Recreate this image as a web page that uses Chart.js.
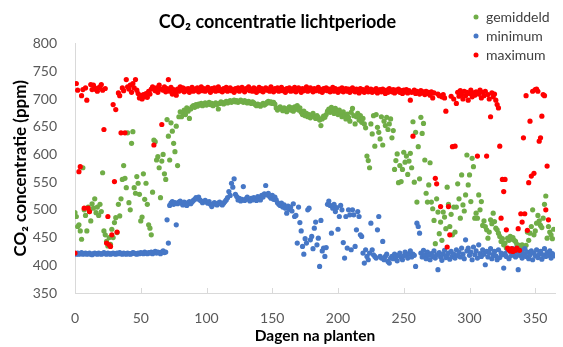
<!DOCTYPE html>
<html>
<head>
<meta charset="utf-8">
<script src="https://cdn.jsdelivr.net/npm/chart.js@4.4.1/dist/chart.umd.min.js"></script>
<style>
    body { margin: 0; background: #fff; }
    #wrap { width: 563px; height: 347px; position: relative; }
</style>
</head>
<body>
<div id="wrap"><canvas id="co2"></canvas></div>
<script>
// one value per day (index = dagen na planten)
var gemiddeld = [
    495,488,470,473,462,447,576,500,490,462,
    505,497,480,511,503,520,495,505,490,510,
    497,567,462,455,443,435,450,438,465,450,
    477,486,459,510,489,520,555,580,557,540,
    639,513,500,620,641,540,530,560,548,528,
    480,487,565,519,548,510,473,467,455,532,
    626,623,590,596,576,522,588,600,565,555,
    663,633,590,657,642,620,605,651,580,668,
    677,668,675,680,672,684,678,665,682,686,
    688,685,690,687,691,689,692,688,690,693,
    689,691,694,690,692,688,691,693,690,682,
    692,695,693,691,694,696,693,695,697,694,
    696,698,695,697,694,696,698,696,694,697,
    695,693,696,694,692,695,693,690,688,691,
    689,687,690,692,689,691,694,696,693,695,
    692,694,691,684,680,683,686,682,679,684,
    681,677,683,686,680,684,678,686,682,688,
    680,684,676,672,678,670,674,668,672,666,
    670,674,668,665,670,667,662,652,664,669,
    667,672,678,682,676,685,680,674,683,678,
    672,680,675,668,677,671,664,673,667,660,
    676,683,670,655,668,674,662,670,658,665,
    655,648,597,589,576,655,637,670,615,672,
    649,640,628,668,617,660,652,667,645,655,
    664,630,643,573,589,601,549,580,551,573,
    604,586,597,564,588,602,576,659,550,640,
    514,614,556,667,638,656,590,530,514,545,
    585,514,502,481,439,520,496,457,478,445,
    496,487,466,541,510,470,492,455,505,460,
    505,547,520,485,563,509,498,527,599,545,
    563,515,593,578,485,494,485,527,500,515,
    472,480,470,464,449,460,482,475,494,479,
    467,464,458,452,443,448,437,440,431,449,
    445,452,447,450,445,443,438,432,436,430,
    437,434,429,436,460,445,458,470,500,455,
    462,476,490,480,472,468,485,510,525,449,
    470,460,455,448,465
];

var minimum = [
    421,420,422,420,421,423,420,421,422,420,
    421,422,420,419,421,422,421,420,422,421,
    420,421,423,421,420,422,421,420,421,422,
    421,420,422,421,423,421,420,422,421,420,
    422,421,420,421,423,422,421,420,422,421,
    423,422,421,424,422,421,423,422,424,421,
    423,425,422,424,423,421,424,426,423,424,
    482,440,508,512,515,510,513,473,511,514,
    516,512,509,514,511,508,513,515,511,514,
    517,519,522,520,523,518,516,513,515,517,
    514,512,515,510,506,510,513,511,509,512,
    514,511,509,512,515,518,522,533,526,548,
    541,556,528,524,518,521,516,519,542,517,
    520,523,519,516,521,518,522,520,517,524,
    521,518,526,523,529,544,527,530,524,521,
    526,519,523,518,513,510,508,512,505,509,
    503,494,507,501,505,498,511,488,490,440,
    505,477,462,434,420,448,440,500,503,446,
    452,430,467,478,437,449,398,481,426,431,
    416,432,510,516,508,458,503,510,497,504,
    465,488,508,500,441,413,488,431,500,491,
    428,500,491,434,464,497,488,455,452,422,
    404,428,416,410,422,476,428,419,416,413,
    464,488,416,413,443,410,416,420,407,404,
    413,416,412,420,415,408,418,422,414,410,
    417,424,419,413,421,426,415,420,418,398,
    476,470,458,422,415,427,419,412,424,418,
    410,421,416,426,413,419,392,423,415,409,
    420,427,414,418,422,411,425,416,420,413,
    428,418,424,415,431,420,412,446,426,431,
    418,424,410,433,419,426,413,437,421,416,
    428,420,401,425,415,422,430,412,419,425,
    417,410,428,414,422,419,395,421,416,428,
    412,425,418,430,420,415,424,392,418,427,
    413,421,430,416,424,412,419,426,410,422,
    417,428,414,420,425,411,419,430,416,423,
    418,426,413,421,417
];

var maximum = [
    422,728,716,569,578,706,717,503,720,698,
    503,497,726,717,725,720,717,714,720,722,
    726,716,645,719,440,488,437,434,455,690,
    551,681,460,711,706,639,720,715,639,735,
    722,718,725,712,728,720,735,716,710,702,
    706,700,708,704,710,703,714,709,718,722,
    617,715,720,712,725,718,654,716,722,713,
    719,735,714,721,709,717,712,707,718,714,
    722,716,720,713,718,715,719,712,717,721,
    714,718,716,720,713,717,722,715,719,714,
    718,721,716,712,719,716,720,714,718,722,
    715,717,713,719,716,721,714,718,720,715,
    717,712,719,716,720,714,718,721,716,713,
    719,717,722,715,718,714,720,716,712,718,
    721,715,719,713,717,720,716,718,714,722,
    717,713,719,716,720,714,718,721,715,717,
    712,719,716,720,714,718,715,721,713,717,
    720,716,712,719,715,718,722,714,717,720,
    716,713,719,715,718,721,714,717,712,719,
    716,720,715,718,713,717,721,714,719,716,
    712,718,715,720,713,717,719,714,718,712,
    716,720,715,713,718,716,711,719,714,717,
    712,716,720,713,715,718,712,716,714,719,
    711,715,717,713,718,714,710,716,712,719,
    715,713,717,711,716,714,718,712,715,710,
    716,713,717,711,715,698,712,633,716,710,
    714,712,709,715,711,713,708,714,710,712,
    707,713,702,711,557,547,709,706,506,704,
    708,702,678,433,506,455,705,614,700,615,
    692,712,705,715,708,700,714,706,712,698,
    710,716,704,711,707,713,597,709,716,702,
    712,706,714,597,708,700,668,711,704,709,
    698,690,684,615,485,555,533,555,464,431,
    428,426,430,425,428,427,431,466,427,493,
    478,630,493,706,463,549,660,561,714,566,
    717,718,714,624,630,669,708,706,500,579,
    482,null,null,null,null
];

var xTicks = [0, 50, 100, 150, 200, 250, 300, 350];
var yTicks = [350, 400, 450, 500, 550, 600, 650, 700, 750, 800];

function toPoints(values) {
    return values.map(function (v, i) { return { x: i, y: v }; });
}

// legend drawn as a small list in the top right corner
var cornerLegend = {
    id: 'cornerLegend',
    afterDraw: function (chart) {
        var ctx = chart.ctx;
        ctx.save();
        ctx.font = '14px Lato';
        ctx.textBaseline = 'middle';
        chart.data.datasets.forEach(function (ds, i) {
            var y = 17 + i * 19;
            ctx.fillStyle = ds.backgroundColor;
            ctx.beginPath();
            ctx.arc(476, y, 2.5, 0, Math.PI * 2);
            ctx.fill();
            ctx.fillStyle = '#404040';
            ctx.fillText(ds.label, 486, y);
        });
        ctx.restore();
    }
};

// short tick marks pointing up from the x axis
var innerTicks = {
    id: 'innerTicks',
    beforeDatasetsDraw: function (chart) {
        var ctx = chart.ctx;
        var xs = chart.scales.x;
        var b = chart.chartArea.bottom;
        ctx.save();
        ctx.strokeStyle = '#d9d9d9';
        ctx.lineWidth = 1;
        xTicks.forEach(function (t) {
            var px = Math.round(xs.getPixelForValue(t)) + 0.5;
            ctx.beginPath();
            ctx.moveTo(px, b);
            ctx.lineTo(px, b - 5);
            ctx.stroke();
        });
        ctx.restore();
    }
};

var ctx = document.getElementById('co2').getContext('2d');
var co2Chart = new Chart(ctx, {
    type: 'scatter',
    data: {
        datasets: [{
            label: 'gemiddeld',
            data: toPoints(gemiddeld),
            backgroundColor: '#70ad47',
            order: 3
        }, {
            label: 'minimum',
            data: toPoints(minimum),
            backgroundColor: '#4677c6',
            order: 2
        }, {
            label: 'maximum',
            data: toPoints(maximum),
            backgroundColor: '#ff0000',
            order: 1
        }]
    },
    options: {
        responsive: true,
        maintainAspectRatio: false,
        animation: false,
        layout: { padding: { left: 0, right: 8, top: 0, bottom: 0 } },
        elements: {
            point: { radius: 2.6, hoverRadius: 2.6, borderWidth: 0 }
        },
        plugins: {
            legend: { display: false },
            tooltip: { enabled: false },
            title: {
                display: true,
                text: 'CO₂ concentratie lichtperiode',
                color: '#000',
                font: { family: 'Lato', size: 18, weight: 'bold' },
                padding: { top: 11, bottom: 11 }
            }
        },
        scales: {
            x: {
                type: 'linear',
                min: 0,
                max: 365,
                afterBuildTicks: function (scale) {
                    scale.ticks = xTicks.map(function (v) { return { value: v }; });
                },
                afterFit: function (scale) { scale.height = 54; },
                grid: { display: false },
                border: { display: true, color: '#d9d9d9' },
                ticks: {
                    color: '#595959',
                    padding: 9,
                    maxRotation: 0,
                    font: { family: 'Lato', size: 14 }
                },
                title: {
                    display: true,
                    text: 'Dagen na planten',
                    color: '#000',
                    font: { family: 'Lato', size: 15.5, weight: 'bold' },
                    padding: { top: 0, bottom: 2 }
                }
            },
            y: {
                min: 350,
                max: 800,
                afterBuildTicks: function (scale) {
                    scale.ticks = yTicks.map(function (v) { return { value: v }; });
                },
                afterFit: function (scale) { scale.width = 75; },
                grid: { display: false },
                border: { display: true, color: '#d9d9d9' },
                ticks: {
                    color: '#595959',
                    padding: 10,
                    font: { family: 'Lato', size: 14 }
                },
                title: {
                    display: true,
                    text: 'CO₂ concentratie (ppm)',
                    color: '#000',
                    font: { family: 'Lato', size: 17, weight: 'bold' },
                    padding: { top: 10, bottom: 0 }
                }
            }
        }
    },
    plugins: [cornerLegend, innerTicks]
});
</script>
</body>
</html>
